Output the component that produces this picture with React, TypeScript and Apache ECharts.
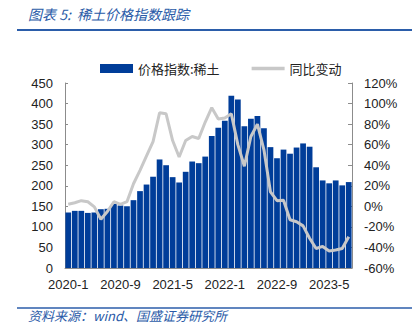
import React, { useEffect, useRef } from "react";
import * as echarts from "echarts";

const months: string[] = [
  "2020-1","2020-2","2020-3","2020-4","2020-5","2020-6","2020-7","2020-8","2020-9","2020-10","2020-11","2020-12",
  "2021-1","2021-2","2021-3","2021-4","2021-5","2021-6","2021-7","2021-8","2021-9","2021-10","2021-11","2021-12",
  "2022-1","2022-2","2022-3","2022-4","2022-5","2022-6","2022-7","2022-8","2022-9","2022-10","2022-11","2022-12",
  "2023-1","2023-2","2023-3","2023-4","2023-5","2023-6","2023-7","2023-8",
];

const priceIndex: number[] = [
  135, 139, 139, 134, 135, 143, 144, 156, 152, 150, 165, 187,
  203, 222, 264, 250, 221, 208, 234, 259, 255, 271, 321, 341,
  358, 419, 410, 345, 363, 370, 340, 294, 267, 288, 278, 293,
  303, 295, 245, 213, 206, 213, 201, 209,
];

const yoyChange: number[] = [
  2, 3.5, 5.5, 4.5, -0.5, -12.5, -5, 4.5, 2, 4.5, 22, 35,
  49, 63, 91, 90, 64, 48, 64, 68, 66, 82, 96, 85,
  86, 90, 60, 39, 68, 80, 55, 14, 5.5, 6, -13, -15,
  -19, -31, -41, -39, -43.5, -42.5, -41, -29.5,
];

const leftTicks = { min: 0, max: 450, interval: 50 };
const rightTicks = { min: -60, max: 120, interval: 20 };

const titleText = "图表 5:  稀土价格指数跟踪";
const sourceText = "资料来源：wind、国盛证券研究所";
const barName = "价格指数:稀土";
const lineName = "同比变动";

export default function App() {
  const ref = useRef<HTMLDivElement>(null);
  useEffect(() => {
    if (!ref.current) return;
    const chart = echarts.init(ref.current, null, { renderer: "svg" });
    const blue = "#2A5BA8";
    const font = "'Liberation Sans', Arial, 'Noto Sans CJK SC', sans-serif";
    chart.setOption({
      animation: false,
      textStyle: { fontFamily: font },
      grid: { left: 65, right: 62, top: 83, bottom: 68 },
      legend: {
        left: 95,
        top: 57,
        itemWidth: 33,
        itemHeight: 9,
        itemGap: 32,
        textStyle: { fontSize: 13, color: "#222", fontFamily: "'Noto Sans CJK SC', sans-serif" },
        data: [
          { name: barName, icon: "rect" },
          { name: lineName, icon: "path://M0,0L33,0L33,3.5L0,3.5Z" },
        ],
      },
      xAxis: {
        type: "category",
        data: months,
        axisLine: { lineStyle: { color: "#8c8c8c" } },
        axisTick: { inside: true, length: 5, interval: 0, lineStyle: { color: "#8c8c8c" } },
        axisLabel: { interval: 7, fontSize: 13, color: "#222", margin: 10 },
      },
      yAxis: [
        {
          type: "value",
          min: leftTicks.min,
          max: leftTicks.max,
          interval: leftTicks.interval,
          splitLine: { show: false },
          axisLine: { show: true, lineStyle: { color: "#8c8c8c" } },
          axisTick: { show: true, inside: true, length: 3, lineStyle: { color: "#8c8c8c" } },
          axisLabel: { fontSize: 13, color: "#222", margin: 12 },
        },
        {
          type: "value",
          min: rightTicks.min,
          max: rightTicks.max,
          interval: rightTicks.interval,
          splitLine: { show: false },
          axisLine: { show: true, lineStyle: { color: "#8c8c8c" } },
          axisTick: { show: true, inside: true, length: 4, lineStyle: { color: "#8c8c8c" } },
          axisLabel: { fontSize: 13, color: "#222", margin: 12, formatter: "{value}%" },
        },
      ],
      series: [
        {
          name: barName,
          type: "bar",
          data: priceIndex,
          yAxisIndex: 0,
          barCategoryGap: "12%",
          itemStyle: { color: "#003D99" },
        },
        {
          name: lineName,
          type: "line",
          data: yoyChange,
          yAxisIndex: 1,
          symbol: "none",
          lineStyle: { color: "#C8C8C8", width: 3 },
          itemStyle: { color: "#C8C8C8" },
        },
      ],
      graphic: [
        {
          type: "text",
          left: 28,
          top: 7,
          style: {
            text: titleText,
            fill: blue,
            font: "italic 14px 'Noto Sans CJK SC', sans-serif",
          },
        },
        {
          type: "line",
          shape: { x1: 17, y1: 30, x2: 412, y2: 30 },
          style: { stroke: "#2B5DAA", lineWidth: 2 },
        },
        {
          type: "line",
          shape: { x1: 17, y1: 308, x2: 412, y2: 308 },
          style: { stroke: "#2B5DAA", lineWidth: 1.5 },
        },
        {
          type: "text",
          left: 28,
          top: 309,
          style: {
            text: sourceText,
            fill: blue,
            font: "italic 13px 'Noto Sans CJK SC', sans-serif",
          },
        },
      ],
    });
    return () => chart.dispose();
  }, []);
  return (
    <div
      ref={ref}
      style={{ position: "absolute", left: 0, top: 0, width: 414, height: 336, background: "#fff" }}
    />
  );
}
